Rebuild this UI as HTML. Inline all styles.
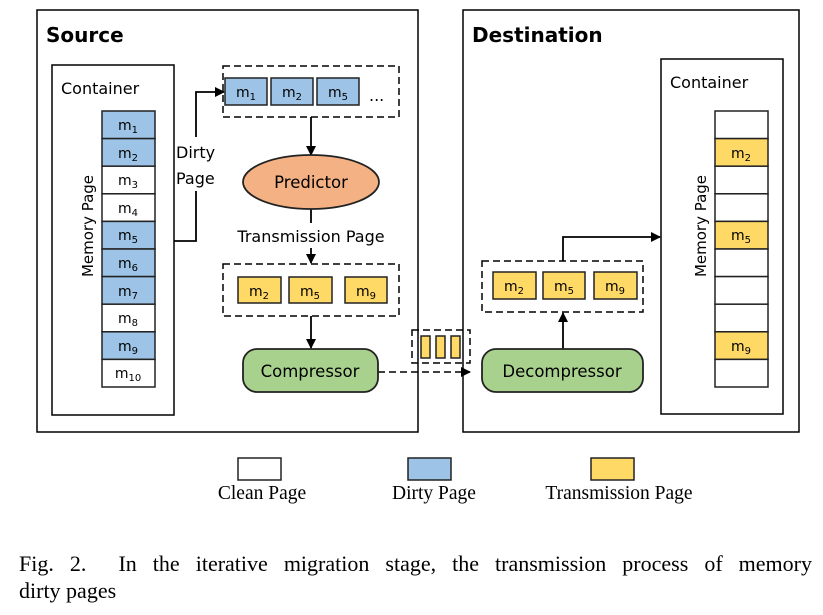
<!DOCTYPE html>
<html><head><meta charset="utf-8"><style>
body{margin:0;background:#fff;width:823px;height:615px;overflow:hidden;position:relative}
svg{display:block}
.s{font-family:"DejaVu Sans","Liberation Sans",sans-serif}
.t{font-family:"Liberation Serif",serif}
.cap{position:absolute;left:19px;width:793px;font-family:"Liberation Serif",serif;font-size:22px;line-height:27px;white-space:nowrap}
.j{text-align:justify;text-align-last:justify;white-space:normal}
</style></head><body>
<svg width="823" height="615" viewBox="0 0 823 615">
<defs><marker id="a" markerWidth="10" markerHeight="10" refX="9" refY="5" orient="auto" markerUnits="userSpaceOnUse"><path d="M0,0 L10,5 L0,10 z" fill="#000"/></marker></defs>
<g fill="none" stroke="#000" stroke-width="1.5">
<rect x="37" y="10" width="381" height="422"/>
<rect x="463" y="10" width="336" height="422"/>
<rect x="52" y="65" width="122" height="350"/>
<rect x="661" y="59" width="122" height="355"/>
</g>
<text x="46" y="42" class="s" font-size="20" font-weight="bold">Source</text>
<text x="472" y="42" class="s" font-size="20" font-weight="bold">Destination</text>
<text x="61" y="94" class="s" font-size="16">Container</text>
<text x="670" y="88" class="s" font-size="16">Container</text>
<text transform="translate(93,226) rotate(-90)" text-anchor="middle" class="s" font-size="15">Memory Page</text>
<text transform="translate(706,226) rotate(-90)" text-anchor="middle" class="s" font-size="15">Memory Page</text>
<g stroke="#222" stroke-width="1.5">
<rect x="102" y="111" width="53" height="27.6" fill="#9dc3e6"/>
<rect x="102" y="138.6" width="53" height="27.6" fill="#9dc3e6"/>
<rect x="102" y="166.2" width="53" height="27.6" fill="#fff"/>
<rect x="102" y="193.8" width="53" height="27.6" fill="#fff"/>
<rect x="102" y="221.4" width="53" height="27.6" fill="#9dc3e6"/>
<rect x="102" y="249" width="53" height="27.6" fill="#9dc3e6"/>
<rect x="102" y="276.6" width="53" height="27.6" fill="#9dc3e6"/>
<rect x="102" y="304.2" width="53" height="27.6" fill="#fff"/>
<rect x="102" y="331.8" width="53" height="27.6" fill="#9dc3e6"/>
<rect x="102" y="359.4" width="53" height="27.6" fill="#fff"/>
<rect x="715" y="111" width="53" height="27.6" fill="#fff"/>
<rect x="715" y="138.6" width="53" height="27.6" fill="#ffd966"/>
<rect x="715" y="166.2" width="53" height="27.6" fill="#fff"/>
<rect x="715" y="193.8" width="53" height="27.6" fill="#fff"/>
<rect x="715" y="221.4" width="53" height="27.6" fill="#ffd966"/>
<rect x="715" y="249" width="53" height="27.6" fill="#fff"/>
<rect x="715" y="276.6" width="53" height="27.6" fill="#fff"/>
<rect x="715" y="304.2" width="53" height="27.6" fill="#fff"/>
<rect x="715" y="331.8" width="53" height="27.6" fill="#ffd966"/>
<rect x="715" y="359.4" width="53" height="27.6" fill="#fff"/>
</g>
<g class="s" font-size="14" text-anchor="middle" fill="#000">
<text x="128" y="130">m<tspan font-size="10" dy="3">1</tspan></text>
<text x="128" y="158">m<tspan font-size="10" dy="3">2</tspan></text>
<text x="128" y="185">m<tspan font-size="10" dy="3">3</tspan></text>
<text x="128" y="213">m<tspan font-size="10" dy="3">4</tspan></text>
<text x="128" y="240">m<tspan font-size="10" dy="3">5</tspan></text>
<text x="128" y="268">m<tspan font-size="10" dy="3">6</tspan></text>
<text x="128" y="296">m<tspan font-size="10" dy="3">7</tspan></text>
<text x="128" y="323">m<tspan font-size="10" dy="3">8</tspan></text>
<text x="128" y="351">m<tspan font-size="10" dy="3">9</tspan></text>
<text x="128" y="378">m<tspan font-size="10" dy="3">10</tspan></text>
<text x="741" y="158">m<tspan font-size="10" dy="3">2</tspan></text>
<text x="741" y="240">m<tspan font-size="10" dy="3">5</tspan></text>
<text x="741" y="351">m<tspan font-size="10" dy="3">9</tspan></text>
</g>
<g fill="none" stroke="#000" stroke-width="1.5" stroke-dasharray="7,4">
<rect x="223" y="66" width="176" height="51"/>
<rect x="223" y="264" width="176" height="52"/>
<rect x="482" y="261" width="161" height="51"/>
<rect x="412" y="330" width="58" height="33"/>
<path d="M378,372 H470" marker-end="url(#a)"/>
</g>
<g stroke="#222" stroke-width="1.5">
<rect x="225" y="78" width="42" height="27" fill="#9dc3e6"/>
<rect x="271" y="78" width="42" height="27" fill="#9dc3e6"/>
<rect x="317" y="78" width="42" height="27" fill="#9dc3e6"/>
<rect x="238" y="277" width="43" height="26" fill="#ffd966"/>
<rect x="289" y="277" width="43" height="26" fill="#ffd966"/>
<rect x="345" y="277" width="42" height="26" fill="#ffd966"/>
<rect x="493" y="272" width="43" height="27" fill="#ffd966"/>
<rect x="543" y="272" width="42" height="27" fill="#ffd966"/>
<rect x="594" y="272" width="43" height="27" fill="#ffd966"/>
<rect x="421" y="336" width="9" height="22" fill="#ffd966"/>
<rect x="436" y="336" width="9" height="22" fill="#ffd966"/>
<rect x="451" y="336" width="9" height="22" fill="#ffd966"/>
</g>
<g class="s" font-size="14" text-anchor="middle">
<text x="246" y="97">m<tspan font-size="10" dy="3">1</tspan></text>
<text x="292" y="97">m<tspan font-size="10" dy="3">2</tspan></text>
<text x="338" y="97">m<tspan font-size="10" dy="3">5</tspan></text>
<text x="259" y="296">m<tspan font-size="10" dy="3">2</tspan></text>
<text x="310" y="296">m<tspan font-size="10" dy="3">5</tspan></text>
<text x="366" y="296">m<tspan font-size="10" dy="3">9</tspan></text>
<text x="514" y="291">m<tspan font-size="10" dy="3">2</tspan></text>
<text x="564" y="291">m<tspan font-size="10" dy="3">5</tspan></text>
<text x="615" y="291">m<tspan font-size="10" dy="3">9</tspan></text>
</g>
<text x="369" y="101" class="s" font-size="16">...</text>
<g fill="none" stroke="#000" stroke-width="1.8">
<path d="M174,241 H196 V191 M196,137 V92 H224" marker-end="url(#a)"/>
<path d="M311,117 V155" marker-end="url(#a)"/>
<path d="M311,209 V223"/>
<path d="M311,248 V263" marker-end="url(#a)"/>
<path d="M311,316 V348" marker-end="url(#a)"/>
<path d="M563,349 V313" marker-end="url(#a)"/>
<path d="M563,261 V237 H660" marker-end="url(#a)"/>
</g>
<text x="176" y="158" class="s" font-size="16">Dirty</text>
<text x="176" y="184" class="s" font-size="16">Page</text>
<ellipse cx="311" cy="182" rx="68" ry="27" fill="#f4b183" stroke="#222" stroke-width="1.8"/>
<text x="311" y="188" text-anchor="middle" class="s" font-size="16.5">Predictor</text>
<text x="311" y="242" text-anchor="middle" class="s" font-size="16">Transmission Page</text>
<rect x="243" y="349" width="135" height="43" rx="14" fill="#a9d18e" stroke="#222" stroke-width="1.8"/>
<text x="310" y="377" text-anchor="middle" class="s" font-size="16.5">Compressor</text>
<rect x="482" y="349" width="161" height="43" rx="14" fill="#a9d18e" stroke="#222" stroke-width="1.8"/>
<text x="562" y="377" text-anchor="middle" class="s" font-size="16.5">Decompressor</text>
<g stroke="#222" stroke-width="1.5">
<rect x="238" y="458" width="43" height="22" fill="#fff"/>
<rect x="408" y="458" width="43" height="22" fill="#9dc3e6"/>
<rect x="591" y="458" width="43" height="22" fill="#ffd966"/>
</g>
<g class="t" font-size="19.5" text-anchor="middle">
<text x="262" y="499">Clean Page</text>
<text x="434" y="499">Dirty Page</text>
<text x="619" y="499">Transmission Page</text>
</g>
</svg>
<div class="cap j" style="top:550px">Fig. 2.&nbsp; In the iterative migration stage, the transmission process of memory</div>
<div class="cap" style="top:577px">dirty pages</div>
</body></html>
